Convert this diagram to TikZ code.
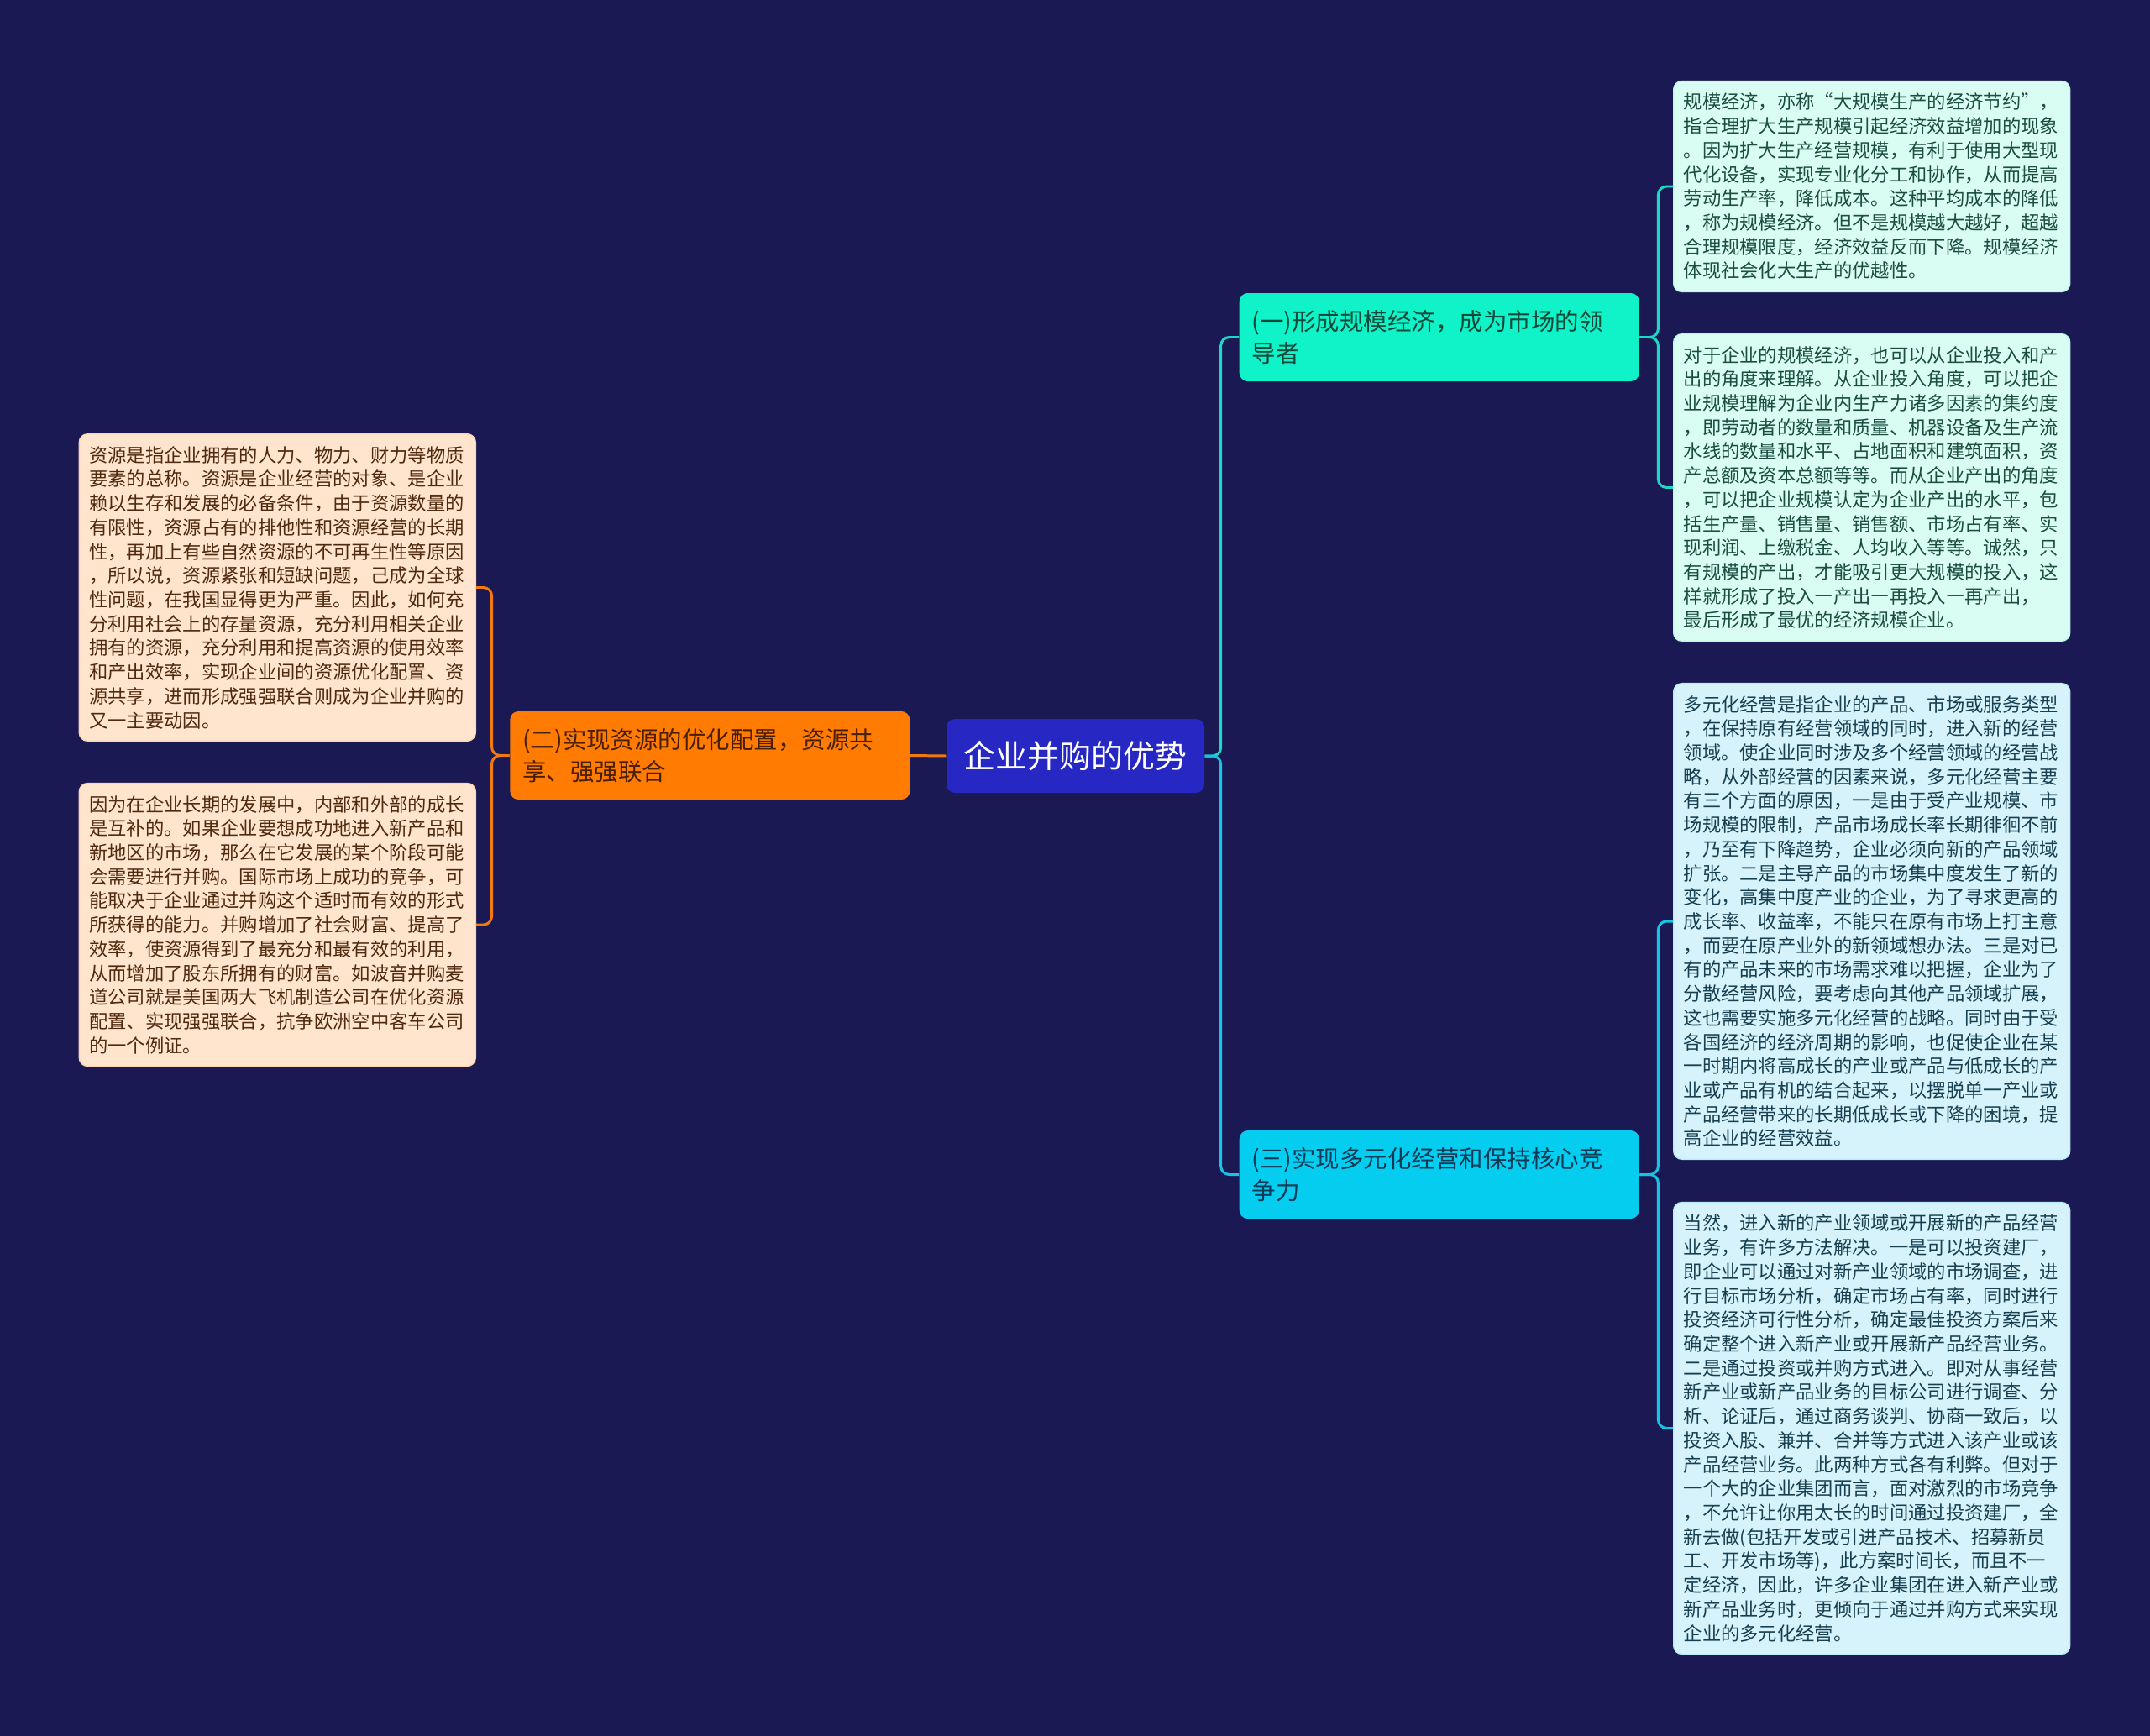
\documentclass[tikz,border=0pt]{standalone}
\usepackage{fontspec}
\setmainfont{Noto Sans CJK SC}
\newfontfamily\fwfont[RawFeature=+fwid]{Noto Sans CJK SC}
\newcommand{\fwdash}{{\fwfont —}}
\usetikzlibrary{positioning}
\definecolor{bgnavy}{HTML}{1B1953}
\definecolor{rootblue}{HTML}{2727C4}
\definecolor{onefill}{HTML}{10F2C8}
\definecolor{twofill}{HTML}{FF7B02}
\definecolor{threefill}{HTML}{05CDF0}
\definecolor{onetext}{HTML}{0E4A3A}
\definecolor{twotext}{HTML}{4A1F00}
\definecolor{threetext}{HTML}{0A3A55}
\definecolor{mintfill}{HTML}{DAFDF3}
\definecolor{skyfill}{HTML}{D6F3FB}
\definecolor{peachfill}{HTML}{FFE5CE}
\definecolor{minttext}{HTML}{1B4D40}
\definecolor{skytext}{HTML}{173F50}
\definecolor{peachtext}{HTML}{4F2A0E}
\definecolor{oneline}{HTML}{1DD8C6}
\definecolor{twoline}{HTML}{F07A10}
\definecolor{threeline}{HTML}{17C4E6}

\begin{document}
\begin{tikzpicture}[
  root/.style={rectangle, fill=rootblue, rounded corners=0.1cm, text=white,
               minimum width=3.07cm, minimum height=0.88cm,
               font=\fontsize{10.8pt}{13pt}\selectfont},
  topic/.style={rectangle, rounded corners=0.1cm, text width=4.46cm, align=left,
                inner xsep=0.15cm, minimum height=1.05cm,
                font=\fontsize{8.1pt}{10.8pt}\selectfont},
  detail/.style={rectangle, rounded corners=0.1cm, text width=4.48cm, align=left,
                 inner xsep=0.12cm, inner ysep=0.145cm,
                 font=\fontsize{6.35pt}{8.17pt}\selectfont},
  link/.style={line width=0.85pt, rounded corners=0.1cm}
]
  \fill[bgnavy] (0,0) rectangle (25.6,-20.67);
  \useasboundingbox (0,0) rectangle (25.6,-20.67);

  % root and main topics
  \node[root] (root) at (12.805,-9.00) {企业并购的优势};

  \node[topic, fill=onefill, text=onetext, anchor=west] (one) at (14.75,-4.015)
    {(一)形成规模经济，成为市场的领\\导者};
  \node[topic, fill=twofill, text=twotext, anchor=east] (two) at (10.84,-8.995)
    {(二)实现资源的优化配置，资源共\\享、强强联合};
  \node[topic, fill=threefill, text=threetext, anchor=west] (three) at (14.75,-13.985)
    {(三)实现多元化经营和保持核心竞\\争力};

  % details, right side
  \node[detail, fill=mintfill, draw=mintfill!85!oneline, text=minttext, anchor=west] (r1) at (19.92,-2.22)
    {规模经济，亦称“大规模生产的经济节约”，\\
     指合理扩大生产规模引起经济效益增加的现象\\
     。因为扩大生产经营规模，有利于使用大型现\\
     代化设备，实现专业化分工和协作，从而提高\\
     劳动生产率，降低成本。这种平均成本的降低\\
     ，称为规模经济。但不是规模越大越好，超越\\
     合理规模限度，经济效益反而下降。规模经济\\
     体现社会化大生产的优越性。};
  \node[detail, fill=mintfill, draw=mintfill!85!oneline, text=minttext, anchor=west] (r2) at (19.92,-5.805)
    {对于企业的规模经济，也可以从企业投入和产\\
     出的角度来理解。从企业投入角度，可以把企\\
     业规模理解为企业内生产力诸多因素的集约度\\
     ，即劳动者的数量和质量、机器设备及生产流\\
     水线的数量和水平、占地面积和建筑面积，资\\
     产总额及资本总额等等。而从企业产出的角度\\
     ，可以把企业规模认定为企业产出的水平，包\\
     括生产量、销售量、销售额、市场占有率、实\\
     现利润、上缴税金、人均收入等等。诚然，只\\
     有规模的产出，才能吸引更大规模的投入，这\\
     样就形成了投入\fwdash 产出\fwdash 再投入\fwdash 再产出，\\
     最后形成了最优的经济规模企业。};
  \node[detail, fill=skyfill, draw=skyfill!85!threeline, text=skytext, anchor=west] (r3) at (19.92,-10.97)
    {多元化经营是指企业的产品、市场或服务类型\\
     ，在保持原有经营领域的同时，进入新的经营\\
     领域。使企业同时涉及多个经营领域的经营战\\
     略，从外部经营的因素来说，多元化经营主要\\
     有三个方面的原因，一是由于受产业规模、市\\
     场规模的限制，产品市场成长率长期徘徊不前\\
     ，乃至有下降趋势，企业必须向新的产品领域\\
     扩张。二是主导产品的市场集中度发生了新的\\
     变化，高集中度产业的企业，为了寻求更高的\\
     成长率、收益率，不能只在原有市场上打主意\\
     ，而要在原产业外的新领域想办法。三是对已\\
     有的产品未来的市场需求难以把握，企业为了\\
     分散经营风险，要考虑向其他产品领域扩展，\\
     这也需要实施多元化经营的战略。同时由于受\\
     各国经济的经济周期的影响，也促使企业在某\\
     一时期内将高成长的产业或产品与低成长的产\\
     业或产品有机的结合起来，以摆脱单一产业或\\
     产品经营带来的长期低成长或下降的困境，提\\
     高企业的经营效益。};
  \node[detail, fill=skyfill, draw=skyfill!85!threeline, text=skytext, anchor=west] (r4) at (19.92,-17.005)
    {当然，进入新的产业领域或开展新的产品经营\\
     业务，有许多方法解决。一是可以投资建厂，\\
     即企业可以通过对新产业领域的市场调查，进\\
     行目标市场分析，确定市场占有率，同时进行\\
     投资经济可行性分析，确定最佳投资方案后来\\
     确定整个进入新产业或开展新产品经营业务。\\
     二是通过投资或并购方式进入。即对从事经营\\
     新产业或新产品业务的目标公司进行调查、分\\
     析、论证后，通过商务谈判、协商一致后，以\\
     投资入股、兼并、合并等方式进入该产业或该\\
     产品经营业务。此两种方式各有利弊。但对于\\
     一个大的企业集团而言，面对激烈的市场竞争\\
     ，不允许让你用太长的时间通过投资建厂，全\\
     新去做(包括开发或引进产品技术、招募新员\\
     工、开发市场等)，此方案时间长，而且不一\\
     定经济，因此，许多企业集团在进入新产业或\\
     新产品业务时，更倾向于通过并购方式来实现\\
     企业的多元化经营。};

  % details, left side
  \node[detail, fill=peachfill, draw=peachfill!85!twoline, text=peachtext, anchor=east] (l1) at (5.67,-6.995)
    {资源是指企业拥有的人力、物力、财力等物质\\
     要素的总称。资源是企业经营的对象、是企业\\
     赖以生存和发展的必备条件，由于资源数量的\\
     有限性，资源占有的排他性和资源经营的长期\\
     性，再加上有些自然资源的不可再生性等原因\\
     ，所以说，资源紧张和短缺问题，己成为全球\\
     性问题，在我国显得更为严重。因此，如何充\\
     分利用社会上的存量资源，充分利用相关企业\\
     拥有的资源，充分利用和提高资源的使用效率\\
     和产出效率，实现企业间的资源优化配置、资\\
     源共享，进而形成强强联合则成为企业并购的\\
     又一主要动因。};
  \node[detail, fill=peachfill, draw=peachfill!85!twoline, text=peachtext, anchor=east] (l2) at (5.67,-11.01)
    {因为在企业长期的发展中，内部和外部的成长\\
     是互补的。如果企业要想成功地进入新产品和\\
     新地区的市场，那么在它发展的某个阶段可能\\
     会需要进行并购。国际市场上成功的竞争，可\\
     能取决于企业通过并购这个适时而有效的形式\\
     所获得的能力。并购增加了社会财富、提高了\\
     效率，使资源得到了最充分和最有效的利用，\\
     从而增加了股东所拥有的财富。如波音并购麦\\
     道公司就是美国两大飞机制造公司在优化资源\\
     配置、实现强强联合，抗争欧洲空中客车公司\\
     的一个例证。};

  % connectors
  \draw[link, oneline] (root.east) -- ++(0.19,0) |- (one.west);
  \draw[link, threeline] (root.east) -- ++(0.19,0) |- (three.west);
  \draw[link, twoline] (root.west) -- (two.east);

  \draw[link, oneline] (one.east) -- ++(0.22,0) |- (r1.west);
  \draw[link, oneline] (one.east) -- ++(0.22,0) |- (r2.west);
  \draw[link, threeline] (three.east) -- ++(0.22,0) |- (r3.west);
  \draw[link, threeline] (three.east) -- ++(0.22,0) |- (r4.west);
  \draw[link, twoline] (two.west) -- ++(-0.21,0) |- (l1.east);
  \draw[link, twoline] (two.west) -- ++(-0.21,0) |- (l2.east);
\end{tikzpicture}
\end{document}
